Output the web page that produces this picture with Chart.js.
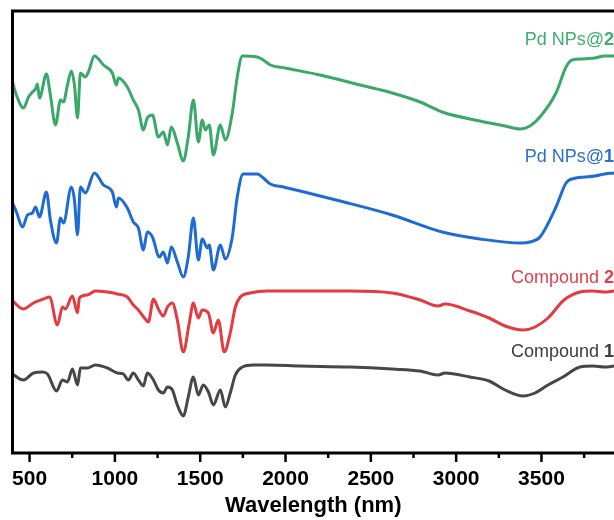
<!DOCTYPE html>
<html>
<head>
<meta charset="utf-8">
<script src="https://cdn.jsdelivr.net/npm/chart.js@4.4.1/dist/chart.umd.min.js"></script>
<style>
  html, body { margin: 0; padding: 0; background: #ffffff; }
  #wrap { width: 614px; height: 520px; position: relative; }
</style>
</head>
<body>
<div id="wrap"><canvas id="c" width="614" height="520"></canvas></div>
<script>
// ---- Data (wavenumber axis labelled "Wavelength (nm)" as in the original) ----
const xMajorTicks = [500, 1000, 1500, 2000, 2500, 3000, 3500];
const xMinorTicks = [750, 1250, 1750, 2250, 2750, 3250, 3750];

const pd2X = [400, 423, 464, 494, 517, 535, 546, 558, 599, 622, 652, 681, 699, 722, 745, 763, 781, 798, 827, 845, 880, 933, 985, 1009, 1021, 1073, 1108, 1138, 1167, 1190, 1220, 1255, 1284, 1308, 1331, 1366, 1401, 1430, 1460, 1489, 1512, 1530, 1553, 1577, 1618, 1647, 1688, 1717, 1747, 1834, 1870, 1911, 1998, 2203, 2438, 2625, 2789, 2918, 3140, 3287, 3374, 3433, 3491, 3585, 3644, 3679, 3740, 3813, 3870, 3925];
const pd2Y = [371, 358, 345, 356, 361, 364, 369, 355, 379, 358, 328, 353, 351, 368, 382, 368, 335, 380, 376, 381, 397, 388, 380, 368, 375, 366, 353, 343, 323, 335, 338, 316, 321, 308, 326, 310, 292, 316, 353, 311, 333, 323, 328, 298, 328, 313, 340, 376, 397, 396, 393, 388, 385, 378, 368, 360, 351, 341, 332, 327, 324, 327, 336, 360, 386, 393, 394, 395, 397, 397];

const pd1X = [400, 423, 459, 488, 517, 535, 558, 599, 622, 658, 681, 699, 745, 763, 781, 798, 827, 880, 933, 985, 1009, 1021, 1073, 1108, 1138, 1167, 1190, 1220, 1261, 1284, 1308, 1331, 1366, 1401, 1430, 1460, 1489, 1512, 1542, 1553, 1577, 1618, 1647, 1688, 1717, 1752, 1834, 1870, 1911, 1987, 2086, 2320, 2625, 2918, 3140, 3380, 3433, 3491, 3585, 3644, 3702, 3760, 3813, 3870, 3925];
const pd1Y = [250, 241, 226, 238, 240, 246, 236, 261, 233, 210, 235, 230, 266, 253, 218, 266, 260, 280, 268, 261, 246, 255, 245, 231, 225, 203, 221, 216, 196, 201, 190, 206, 191, 176, 196, 235, 193, 214, 205, 208, 183, 208, 194, 216, 256, 279, 279, 275, 269, 266, 262, 252, 238, 221, 214, 210, 211, 216, 246, 270, 275, 276, 277, 279, 280];

const c2X = [400, 464, 523, 582, 617, 663, 693, 710, 751, 781, 792, 839, 886, 956, 1015, 1073, 1108, 1138, 1173, 1196, 1226, 1255, 1284, 1308, 1337, 1366, 1401, 1436, 1460, 1489, 1512, 1548, 1577, 1606, 1641, 1676, 1706, 1735, 1793, 1893, 2086, 2379, 2625, 2789, 2894, 2935, 3081, 3193, 3287, 3392, 3463, 3538, 3632, 3726, 3800, 3870, 3925];
const c2Y = [152, 144, 150, 154, 156, 128, 146, 144, 157, 140, 155, 158, 162, 161, 159, 156, 148, 143, 135, 131, 154, 144, 137, 146, 150, 133, 101, 130, 150, 135, 143, 140, 120, 133, 101, 120, 146, 156, 160, 162, 162, 162, 160, 153, 147, 149, 142, 135, 127, 123, 126, 135, 153, 161, 162, 161, 162];

const c1X = [400, 464, 523, 576, 605, 658, 693, 722, 751, 781, 798, 839, 886, 956, 1015, 1050, 1079, 1108, 1138, 1167, 1190, 1226, 1255, 1284, 1308, 1337, 1366, 1401, 1430, 1460, 1489, 1518, 1548, 1577, 1618, 1647, 1676, 1706, 1747, 1811, 1893, 2086, 2379, 2625, 2789, 2894, 2935, 3081, 3193, 3287, 3392, 3463, 3538, 3626, 3726, 3800, 3870, 3925];
const c1Y = [79, 73, 80, 81, 79, 62, 73, 71, 84, 68, 85, 85, 88, 85, 80, 79, 73, 80, 73, 67, 80, 73, 63, 60, 66, 63, 48, 37, 56, 76, 58, 68, 61, 48, 63, 46, 60, 78, 86, 88, 88, 87, 86, 84, 82, 78, 80, 76, 72, 63, 57, 60, 68, 76, 86, 87, 86, 87];

const seriesNames = ["Pd NPs@2", "Pd NPs@1", "Compound 2", "Compound 1"];

function toPoints(xs, ys) { return xs.map((x, i) => ({ x: x, y: ys[i] })); }

const colors = ["#3aa86b", "#1f6bd4", "#e53a3f", "#474747"];
const labelColors = ["#3fae70", "#2c6fcc", "#e0424a", "#3c3c3c"];

const datasets = [
  { label: seriesNames[0], data: toPoints(pd2X, pd2Y), borderColor: colors[0] },
  { label: seriesNames[1], data: toPoints(pd1X, pd1Y), borderColor: colors[1] },
  { label: seriesNames[2], data: toPoints(c2X, c2Y), borderColor: colors[2] },
  { label: seriesNames[3], data: toPoints(c1X, c1Y), borderColor: colors[3] }
].map(d => Object.assign(d, {
  borderWidth: 3, pointRadius: 0, fill: false,
  cubicInterpolationMode: 'monotone', borderJoinStyle: 'round', borderCapStyle: 'round'
}));

// label plugin: series names drawn at right, coordinates through scales
const labelPlugin = {
  id: 'seriesLabels',
  afterDatasetsDraw(chart) {
    const ctx = chart.ctx;
    const ys = chart.scales.y;
    const right = chart.chartArea.right;
    const labelValues = [413, 296, 175, 101];
    const parts = [["Pd NPs@", "2"], ["Pd NPs@", "1"], ["Compound ", "2"], ["Compound ", "1"]];
    ctx.save();
    ctx.textBaseline = 'middle';
    parts.forEach((p, i) => {
      const y = ys.getPixelForValue(labelValues[i]);
      ctx.fillStyle = labelColors[i];
      ctx.font = 'bold 18px "Liberation Sans", Arial, sans-serif';
      const wb = ctx.measureText(p[1]).width;
      ctx.textAlign = 'right';
      ctx.fillText(p[1], right, y);
      ctx.font = '18px "Liberation Sans", Arial, sans-serif';
      ctx.fillText(p[0], right - wb, y);
    });
    ctx.restore();
  }
};

// frame + tick marks plugin
const framePlugin = {
  id: 'frame',
  afterDraw(chart) {
    const ctx = chart.ctx;
    const a = chart.chartArea;
    const xs = chart.scales.x;
    ctx.save();
    ctx.strokeStyle = '#000';
    ctx.lineWidth = 3;
    ctx.lineCap = 'butt';
    ctx.beginPath();
    ctx.moveTo(chart.width, a.top);
    ctx.lineTo(a.left, a.top);
    ctx.lineTo(a.left, a.bottom);
    ctx.lineTo(chart.width, a.bottom);
    ctx.stroke();
    ctx.lineWidth = 2.5;
    xMajorTicks.forEach(v => {
      const px = xs.getPixelForValue(v);
      ctx.beginPath(); ctx.moveTo(px, a.bottom); ctx.lineTo(px, a.bottom + 9); ctx.stroke();
    });
    xMinorTicks.forEach(v => {
      const px = xs.getPixelForValue(v);
      ctx.beginPath(); ctx.moveTo(px, a.bottom); ctx.lineTo(px, a.bottom + 5); ctx.stroke();
    });
    ctx.restore();
  }
};

new Chart(document.getElementById('c'), {
  type: 'line',
  data: { datasets: datasets },
  options: {
    responsive: false,
    animation: false,
    layout: { padding: { left: 12.5, top: 11, right: 0, bottom: 0 } },
    plugins: { legend: { display: false }, tooltip: { enabled: false } },
    scales: {
      x: {
        type: 'linear',
        min: 400, max: 3925,
        afterBuildTicks: (scale) => {
          scale.ticks = xMajorTicks.map(v => ({ value: v }));
        },
        afterFit: (scale) => { scale.paddingLeft = 0; scale.paddingRight = 0; },
        grid: { display: false, drawTicks: false },
        border: { display: false },
        ticks: {
          autoSkip: false,
          maxRotation: 0,
          padding: 15.5,
          color: '#000',
          font: { family: '"Liberation Sans", Arial, sans-serif', size: 21, weight: 'bold', lineHeight: 1 },
          callback: (v) => String(v)
        },
        title: {
          display: true,
          text: 'Wavelength (nm)',
          color: '#000',
          padding: { top: -10, bottom: 3 },
          font: { family: '"Liberation Sans", Arial, sans-serif', size: 22, weight: 'bold', lineHeight: 1 }
        }
      },
      y: {
        display: false,
        min: 0, max: 442
      }
    }
  },
  plugins: [labelPlugin, framePlugin]
});
</script>
</body>
</html>
